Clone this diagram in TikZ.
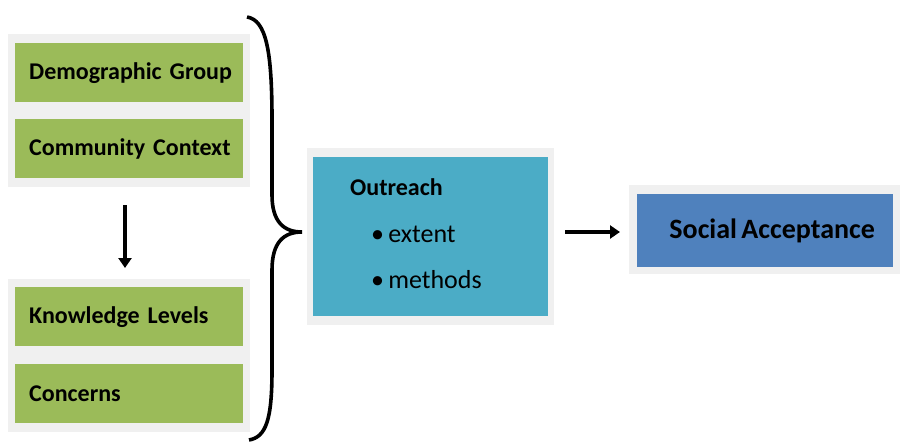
\documentclass[tikz,border=0pt]{standalone}
\usepackage{fontspec}
\setmainfont{Carlito}[WordSpace=0.7]
\usetikzlibrary{arrows.meta}
\definecolor{pgray}{HTML}{F0F0F0}
\definecolor{pgreen}{HTML}{9BBB59}
\definecolor{pteal}{HTML}{4BACC6}
\definecolor{pblue}{HTML}{4F81BD}
\tikzset{
  panel/.style={fill=pgray, draw=none, anchor=north west, inner sep=0pt},
  greenbox/.style={fill=pgreen, draw=none, anchor=north west, minimum width=228pt, minimum height=59pt, inner sep=0pt, text width=214pt, align=left, execute at begin node={\hspace*{7pt}}, font=\fontsize{24}{26}\selectfont\bfseries},
  conn/.style={line width=3.2pt, -{Triangle[length=10pt,width=13pt]}},
}
\begin{document}
\begin{tikzpicture}[x=1pt,y=-1pt]
\useasboundingbox (0,0) rectangle (900,442);
% left panels
\node[panel, minimum width=242pt, minimum height=153pt] (top) at (8,34) {};
\node[panel, minimum width=242pt, minimum height=153pt] (bot) at (8,279) {};
\node[greenbox] (demo) at (15,43) {Demographic Group};
\node[greenbox] (comm) at (15,119) {Community Context};
\node[greenbox] (know) at (15,287) {Knowledge Levels};
\node[greenbox] (conc) at (15,364) {Concerns};
% brace
\draw[line width=3.6pt] (247,17) .. controls (266,20) and (272,50) .. (272,120) -- (272,195)
  .. controls (272,222) and (284,232) .. (302,232)
  .. controls (284,232) and (272,242) .. (272,270) -- (272,370)
  .. controls (272,420) and (266,437) .. (249,440);
% outreach
\node[panel, minimum width=247pt, minimum height=177pt] (outp) at (307,148) {};
\node[fill=pteal, anchor=north west, minimum width=235pt, minimum height=159pt, inner sep=0pt] (out) at (313,157) {};
\node[anchor=west, inner sep=0pt, font=\fontsize{24}{26}\selectfont\bfseries] (outt) at (350,187) {Outreach};
\node[anchor=west, inner sep=0pt, font=\fontsize{26}{28}\selectfont] (ext) at (371,234) {\textbullet\ extent};
\node[anchor=west, inner sep=0pt, font=\fontsize{26}{28}\selectfont] (meth) at (371,280) {\textbullet\ methods};
% social acceptance
\node[panel, minimum width=271pt, minimum height=89pt] (socp) at (629,185) {};
\node[fill=pblue, anchor=north west, minimum width=256pt, minimum height=73pt, inner sep=0pt] (soc) at (637,194) {};
\node[font=\fontsize{28}{30}\selectfont\bfseries, inner sep=0pt] (soct) at ([xshift=7pt]soc.center) {Social Acceptance};
% connectors
\draw[conn, shorten <=18pt, shorten >=11pt] (top.south -| 125,0) -- (bot.north -| 125,0);
\draw[conn, shorten <=11pt, shorten >=9pt] (outp.east |- 0,232) -- (socp.west |- 0,232);
\end{tikzpicture}
\end{document}
